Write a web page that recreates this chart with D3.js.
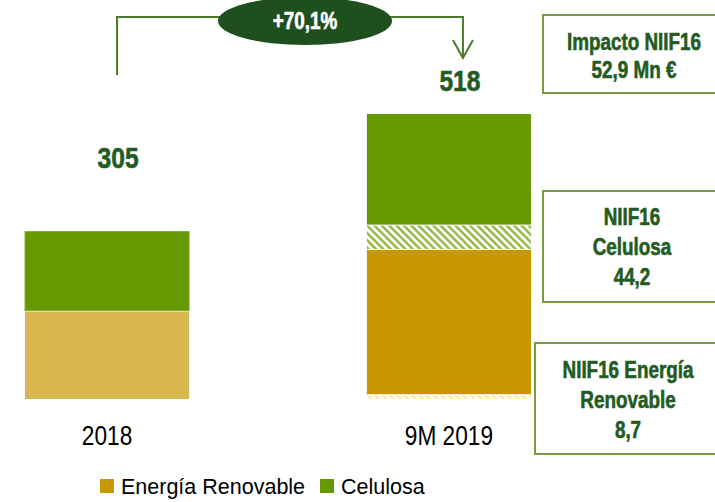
<!DOCTYPE html>
<html>
    <head>
        <meta charset="utf-8">
        <script type="text/javascript" src="https://cdn.jsdelivr.net/npm/d3@7/dist/d3.min.js"></script>
        <style type="text/css">
            body { margin: 0; background: #fff; }
            text { font-family: "Liberation Sans", Arial, sans-serif; }
            .heavy { stroke-width: 0.6px; paint-order: stroke; }
        </style>
    </head>
    <body>
        <div id="chart"></div>

        <script>
        var width = 715;
        var height = 502;

        // ========== data ==========
        var categories = ['2018', '9M 2019'];
        var totals = [305, 518];
        // stacked from bottom: NIIF16 Energia, Energia, NIIF16 Celulosa, Celulosa
        var energiaNiif = [0, 8.7];
        var energia = [160, 263];
        var celulosaNiif = [0, 44.2];
        var celulosa = [145, 202];
        var growthLabel = '+70,1%';
        var legendNames = ['Energía Renovable', 'Celulosa'];
        var boxTexts = [
            ['Impacto NIIF16', '52,9 Mn €'],
            ['NIIF16', 'Celulosa', '44,2'],
            ['NIIF16 Energía', 'Renovable', '8,7']
        ];

        var darkGreen = '#235b21';
        var lineGreen = '#4a7a2a';

        var svg = d3.select('#chart').append('svg')
            .attr('width', width)
            .attr('height', height);

        // squeeze text horizontally to look like a narrow font (none installed)
        function narrow(sel, f) {
            sel.each(function() {
                var t = d3.select(this);
                var x = +t.attr('x'), y = +t.attr('y');
                t.attr('x', 0).attr('y', 0)
                    .attr('transform', 'translate(' + x + ',' + y + ') scale(' + (f || 0.82) + ',1)');
            });
        }

        // patterns
        var defs = svg.append('defs');
        function hatch(id, color) {
            var p = defs.append('pattern')
                .attr('id', id)
                .attr('patternUnits', 'userSpaceOnUse')
                .attr('width', 5.2)
                .attr('height', 5.2)
                .attr('patternTransform', 'rotate(-45)');
            p.append('rect').attr('width', 5.2).attr('height', 5.2).attr('fill', '#fff');
            p.append('rect').attr('width', 2.6).attr('height', 5.2).attr('fill', color);
        }
        hatch('hatchGreen', '#9bbb4f');
        hatch('hatchYellow', '#ffe9a6');

        // scales
        var xScale = d3.scaleBand()
            .domain(categories)
            .range([25, 531])
            .paddingInner(0.52)
            .paddingOuter(0);

        var yScale = d3.scaleLinear()
            .domain([0, 518])
            .range([399, 113]);

        // stack rows
        var rows = categories.map(function(c, i) {
            return { cat: c, enNiif: energiaNiif[i], en: energia[i], ceNiif: celulosaNiif[i], ce: celulosa[i] };
        });
        var keys = ['enNiif', 'en', 'ceNiif', 'ce'];
        var fills = {
            enNiif: 'url(#hatchYellow)',
            en: ['#d9b74f', '#c89800'],
            ceNiif: 'url(#hatchGreen)',
            ce: ['#669900', '#669900']
        };
        var series = d3.stack().keys(keys)(rows);

        var layers = svg.selectAll('g.layer')
            .data(series)
            .enter()
            .append('g')
            .attr('class', 'layer');

        layers.selectAll('rect')
            .data(function(d) { return d.map(function(v) { v.key = d.key; return v; }); })
            .enter()
            .filter(function(d) { return d[1] - d[0] > 0; })
            .append('rect')
            .attr('x', function(d) { return xScale(d.data.cat); })
            .attr('y', function(d) { return yScale(d[1]) + 1; })
            .attr('width', xScale.bandwidth())
            .attr('height', function(d) { return Math.max(0, yScale(d[0]) - yScale(d[1]) - 1); })
            .attr('fill', function(d) {
                var f = fills[d.key];
                return typeof f === 'string' ? f : f[categories.indexOf(d.data.cat)];
            })
            .attr('stroke', function(d) {
                return (d.key === 'ce' && d.data.cat === '2018') ? '#7fae30' : 'none';
            })
            .attr('stroke-width', 1);

        // totals
        var labelLift = [63, 22];
        svg.selectAll('text.total')
            .data(totals)
            .enter()
            .append('text')
            .attr('class', 'total heavy')
            .attr('x', function(d, i) { return xScale(categories[i]) + xScale.bandwidth() / 2 + 11; })
            .attr('y', function(d, i) { return yScale(d) - labelLift[i]; })
            .attr('text-anchor', 'middle')
            .attr('font-size', 30)
            .attr('font-weight', 'bold')
            .attr('fill', darkGreen)
            .attr('stroke', darkGreen)
            .text(function(d) { return d; })
            .call(narrow);

        // category labels
        svg.selectAll('text.cat')
            .data(categories)
            .enter()
            .append('text')
            .attr('class', 'cat')
            .attr('x', function(d) { return xScale(d) + xScale.bandwidth() / 2; })
            .attr('y', 445)
            .attr('text-anchor', 'middle')
            .attr('font-size', 27)
            .attr('fill', '#000')
            .text(function(d) { return d; })
            .call(narrow, 0.84);

        // growth bracket
        var x1 = xScale(categories[0]) + xScale.bandwidth() / 2 + 10;
        var x2 = xScale(categories[1]) + xScale.bandwidth() / 2 + 14;
        var topY = 17;
        svg.append('path')
            .attr('d', 'M' + x1 + ',75 V' + topY + ' H' + x2 + ' V57')
            .attr('fill', 'none')
            .attr('stroke', lineGreen)
            .attr('stroke-width', 2);
        svg.append('path')
            .attr('d', 'M' + (x2 - 10) + ',40 L' + x2 + ',58 L' + (x2 + 10) + ',40')
            .attr('fill', 'none')
            .attr('stroke', lineGreen)
            .attr('stroke-width', 2);
        svg.append('ellipse')
            .attr('cx', 305)
            .attr('cy', 21)
            .attr('rx', 87)
            .attr('ry', 24)
            .attr('fill', '#1f4e1f');
        svg.append('text')
            .attr('class', 'heavy')
            .attr('x', 305)
            .attr('y', 29)
            .attr('text-anchor', 'middle')
            .attr('font-size', 23)
            .attr('font-weight', 'bold')
            .attr('fill', '#fff')
            .attr('stroke', '#fff')
            .text(growthLabel)
            .call(narrow);

        // annotation boxes
        var boxes = [
            { x: 543, y: 15, h: 78, cx: 634, first: 50, step: 28 },
            { x: 543, y: 191, h: 111, cx: 632, first: 225, step: 30 },
            { x: 535, y: 343, h: 111, cx: 628, first: 378, step: 30 }
        ];
        boxes.forEach(function(b, i) {
            svg.append('rect')
                .attr('x', b.x)
                .attr('y', b.y)
                .attr('width', width - b.x + 5)
                .attr('height', b.h)
                .attr('fill', '#fff')
                .attr('stroke', '#7a9a3f')
                .attr('stroke-width', 2);
            svg.selectAll(null)
                .data(boxTexts[i])
                .enter()
                .append('text')
                .attr('class', 'heavy')
                .attr('x', b.cx)
                .attr('y', function(d, j) { return b.first + j * b.step; })
                .attr('text-anchor', 'middle')
                .attr('font-size', 23)
                .attr('font-weight', 'bold')
                .attr('fill', darkGreen)
                .attr('stroke', darkGreen)
                .text(function(d) { return d; })
                .call(narrow);
        });

        // legend
        var legendColors = ['#c89800', '#669900'];
        var legendX = [100, 320];
        var lg = svg.selectAll('g.legend')
            .data(legendNames)
            .enter()
            .append('g')
            .attr('class', 'legend')
            .attr('transform', function(d, i) { return 'translate(' + legendX[i] + ',479)'; });
        lg.append('rect')
            .attr('width', 14)
            .attr('height', 14)
            .attr('fill', function(d, i) { return legendColors[i]; });
        lg.append('text')
            .attr('x', 21)
            .attr('y', 15)
            .attr('font-size', 21.5)
            .attr('fill', '#000')
            .text(function(d) { return d; });
</script>
    </body>
</html>
